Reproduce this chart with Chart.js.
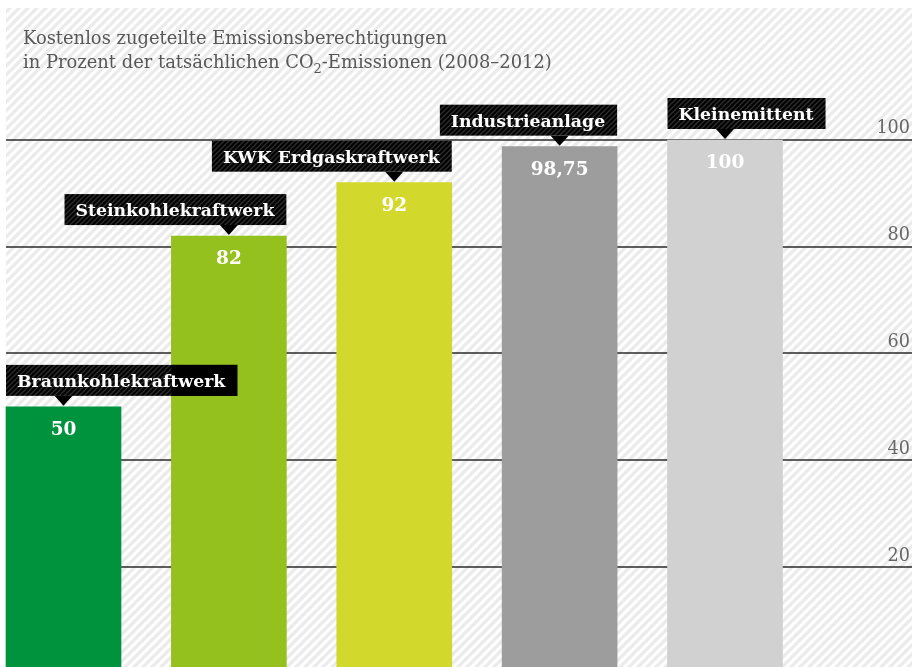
<!DOCTYPE html>
<html><head><meta charset="utf-8">
<script src="https://cdn.jsdelivr.net/npm/chart.js@4/dist/chart.umd.min.js"></script>
<style>html,body{margin:0;padding:0;background:#fff;overflow:hidden}#wrap{width:912px;height:667px;position:relative}</style>
</head><body><div id="wrap"><canvas id="c" width="912" height="667"></canvas></div>
<script>
const categories = ['Braunkohlekraftwerk', 'Steinkohlekraftwerk', 'KWK Erdgaskraftwerk', 'Industrieanlage', 'Kleinemittent'];
const values = [50, 82, 92, 98.75, 100];
const valueLabels = ['50', '82', '92', '98,75', '100'];
const tickValues = [20, 40, 60, 80, 100];
const tickLabels = ['20', '40', '60', '80', '100'];
const titleLine1 = 'Kostenlos zugeteilte Emissionsberechtigungen';
const titleLine2 = ['in Prozent der tatsächlichen CO', '2', '-Emissionen (2008\u20132012)'];

const barColors = ['#00933e', '#95c11f', '#d3d82c', '#9d9d9d', '#d0d1d0'];
const boxAlign = ['left', 'right', 'right', 'right', 'left'];
const FONT = '"DejaVu Serif", serif';

function stripePattern(ctx, size, base, line, lw) {
  const t = document.createElement('canvas');
  t.width = size; t.height = size;
  const g = t.getContext('2d');
  g.fillStyle = base; g.fillRect(0, 0, size, size);
  g.strokeStyle = line; g.lineWidth = lw;
  for (let k = -1; k <= 1; k++) {
    g.beginPath();
    g.moveTo(k * size - 1, size + 1);
    g.lineTo(k * size + size + 1, -1);
    g.stroke();
  }
  return ctx.createPattern(t, 'repeat');
}

const bgPlugin = {
  id: 'bg',
  beforeDraw(chart) {
    const ctx = chart.ctx;
    const y = chart.scales.y;
    ctx.save();
    ctx.fillStyle = '#fff';
    ctx.fillRect(0, 0, chart.width, chart.height);
    ctx.fillStyle = stripePattern(ctx, 9, '#ffffff', '#ebebeb', 3.3);
    ctx.fillRect(6, 8, chart.width - 6, chart.height - 8);
    ctx.strokeStyle = '#2a2a2a';
    ctx.lineWidth = 1.4;
    tickValues.forEach(v => {
      const py = Math.round(y.getPixelForValue(v));
      ctx.beginPath();
      ctx.moveTo(6, py);
      ctx.lineTo(chart.width, py);
      ctx.stroke();
    });
    ctx.fillStyle = '#575757';
    ctx.textBaseline = 'alphabetic';
    ctx.textAlign = 'left';
    ctx.font = '17.9px ' + FONT;
    ctx.fillText(titleLine1, 23, 44);
    let x = 23;
    ctx.fillText(titleLine2[0], x, 68);
    x += ctx.measureText(titleLine2[0]).width;
    ctx.font = '13px ' + FONT;
    ctx.fillText(titleLine2[1], x, 73);
    x += ctx.measureText(titleLine2[1]).width;
    ctx.font = '17.9px ' + FONT;
    ctx.fillText(titleLine2[2], x, 68);
    ctx.restore();
  }
};

const overlayPlugin = {
  id: 'overlay',
  afterDatasetsDraw(chart) {
    const ctx = chart.ctx;
    const meta = chart.getDatasetMeta(0);
    const y = chart.scales.y;
    const boxPat = stripePattern(ctx, 5, '#000000', '#2e2e2e', 1.3);
    ctx.save();
    const bars = meta.data.map(b => {
      const p = b.getProps(['x', 'y', 'width'], true);
      return {l: p.x - p.width / 2, r: p.x + p.width / 2, t: p.y, cx: p.x};
    });
    bars.forEach((b, i) => {
      ctx.font = 'bold 17.3px ' + FONT;
      const tw = ctx.measureText(categories[i]).width;
      const bw = tw + 23, bh = 31;
      const bx = boxAlign[i] === 'left' ? b.l : b.r - bw;
      const by = b.t - 11 - bh;
      ctx.fillStyle = boxPat;
      ctx.fillRect(bx, by, bw, bh);
      bars.forEach(o => {
        const l = Math.max(bx, o.l), r = Math.min(bx + bw, o.r);
        const t = Math.max(by, o.t), bot = by + bh;
        if (r > l && bot > t) { ctx.fillStyle = '#000'; ctx.fillRect(l, t, r - l, bot - t); }
      });
      ctx.fillStyle = '#000';
      ctx.beginPath();
      ctx.moveTo(b.cx - 9, by + bh);
      ctx.lineTo(b.cx + 9, by + bh);
      ctx.lineTo(b.cx, b.t - 1);
      ctx.closePath();
      ctx.fill();
      ctx.fillStyle = '#fff';
      ctx.textAlign = 'left';
      ctx.textBaseline = 'alphabetic';
      ctx.fillText(categories[i], bx + 11, by + 22);
      ctx.font = 'bold 18.5px ' + FONT;
      ctx.textAlign = 'center';
      ctx.fillText(valueLabels[i], b.cx, b.t + 28);
    });
    ctx.fillStyle = '#666';
    ctx.font = '17.6px ' + FONT;
    ctx.textAlign = 'right';
    ctx.textBaseline = 'alphabetic';
    tickValues.forEach((v, i) => {
      ctx.fillText(tickLabels[i], 910, y.getPixelForValue(v) - 6.5);
    });
    ctx.restore();
  }
};

new Chart(document.getElementById('c'), {
  type: 'bar',
  data: {
    labels: categories,
    datasets: [{data: values, backgroundColor: barColors, barThickness: 115, borderWidth: 0, clip: false}]
  },
  options: {
    responsive: false,
    animation: false,
    events: [],
    layout: {padding: {left: 63.5, right: 187, top: 8, bottom: 0}},
    plugins: {legend: {display: false}, tooltip: {enabled: false}, title: {display: false}},
    scales: {
      x: {display: false, offset: false},
      y: {display: false, min: 1.265, max: 124.73}
    }
  },
  plugins: [bgPlugin, overlayPlugin]
});
</script></body></html>
